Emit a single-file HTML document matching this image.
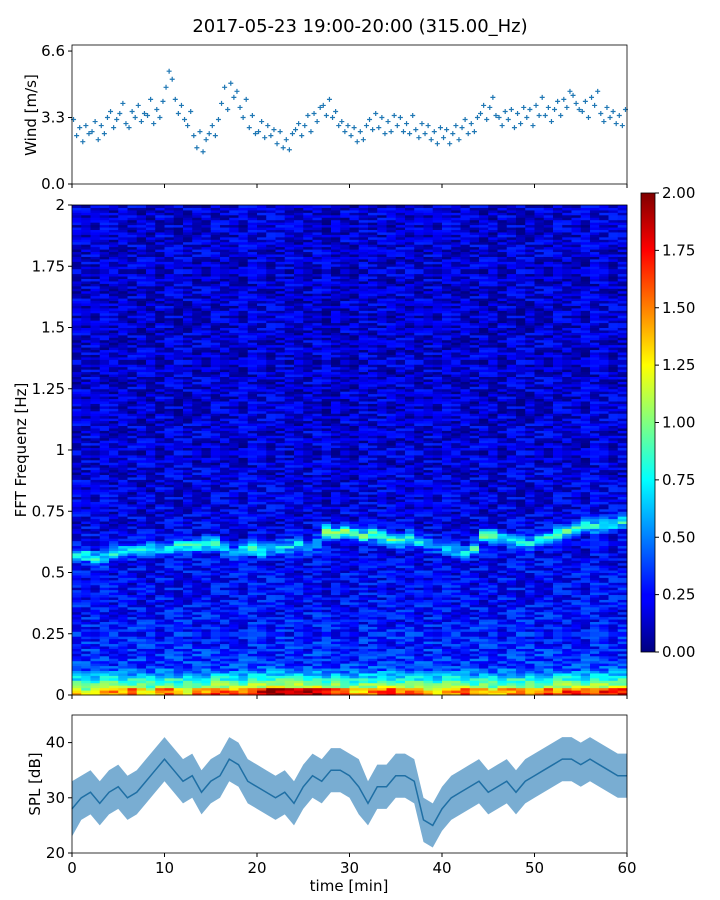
<!DOCTYPE html>
<html><head><meta charset="utf-8"><style>
body{margin:0;background:#fff;}
svg{display:block;font-family:"DejaVu Sans","Liberation Sans",sans-serif;}
</style></head><body>
<svg id="fig" width="720" height="900" viewBox="0 0 720 900">
<defs>
<linearGradient id="jet" x1="0" y1="1" x2="0" y2="0">
<stop offset="0" stop-color="#000080"/><stop offset="0.11" stop-color="#0000ff"/>
<stop offset="0.125" stop-color="#0000ff"/><stop offset="0.375" stop-color="#00ffff"/>
<stop offset="0.5" stop-color="#80ff80"/><stop offset="0.625" stop-color="#ffff00"/>
<stop offset="0.875" stop-color="#ff0000"/><stop offset="1" stop-color="#800000"/>
</linearGradient>
</defs>
<text x="360" y="32" text-anchor="middle" font-size="18">2017-05-23 19:00-20:00 (315.00_Hz)</text>
<g id="wind"></g>
<g id="spec"></g>
<g id="cbar"></g>
<g id="spl"></g>
<text x="349" y="891" text-anchor="middle" font-size="15">time [min]</text>
<text transform="translate(36,115) rotate(-90)" text-anchor="middle" font-size="15">Wind [m/s]</text>
<text transform="translate(26,450) rotate(-90)" text-anchor="middle" font-size="15">FFT Frequenz [Hz]</text>
<text transform="translate(40,784) rotate(-90)" text-anchor="middle" font-size="15">SPL [dB]</text>
</svg>
<script>
const windValues=[3.2,2.4,2.8,2.1,2.9,2.5,2.6,3.1,2.2,2.9,2.5,3.3,3.6,2.8,3.2,3.5,4.0,3.0,2.8,3.6,3.3,3.9,3.1,3.5,3.4,4.2,3.0,3.7,3.3,4.1,4.8,5.6,5.2,4.2,3.5,3.9,3.2,2.9,3.6,2.4,1.8,2.6,1.6,2.2,2.5,2.9,2.4,3.2,4.0,4.8,3.7,5.0,4.3,4.6,3.8,3.3,4.2,2.8,3.4,2.5,2.6,3.1,2.3,2.9,2.4,2.7,2.0,2.6,1.8,2.2,1.7,2.5,2.7,3.0,2.4,2.9,3.4,2.6,3.5,3.1,3.8,3.9,3.4,4.2,3.3,3.6,2.9,3.1,2.6,2.9,2.4,2.8,2.1,2.6,2.2,2.9,3.2,2.7,3.5,2.8,3.3,2.5,3.1,2.6,3.4,2.9,3.3,2.6,3.0,2.5,3.4,2.7,2.3,3.0,2.5,2.9,2.2,2.6,2.0,2.8,2.3,2.7,2.0,2.5,2.9,2.2,2.8,3.2,2.5,3.0,2.6,3.3,3.5,3.9,3.2,3.8,4.3,3.4,3.3,2.9,3.6,3.2,3.7,2.8,3.5,3.0,3.8,3.3,3.7,2.9,3.9,3.4,4.3,3.4,3.8,3.1,3.7,4.1,3.4,4.2,3.8,4.6,4.4,4.0,3.7,3.6,4.1,3.3,4.3,3.9,4.6,3.5,3.1,3.8,3.3,3.6,3.0,3.4,2.9,3.7];
const windTicks=[0,3.3,6.6];
const windTickLabels=["0.0","3.3","6.6"];
const splMid=[28,30,31,29,31,32,30,31,33,35,37,35,33,34,31,33,34,37,36,33,32,31,30,31,29,32,34,33,35,35,34,32,29,32,32,34,34,33,26,25,28,30,31,32,33,31,32,33,31,33,34,35,36,37,37,36,37,36,35,34,34];
const splHalf=[5,4,4,4,4,4,4,4,4,4,4,4,4,4,4,4,4,4,4,4,4,4,4,4,4,4,4,4,4,4,4,5,4,4,4,4,4,4,4,4,4,4,4,4,4,4,4,4,4,4,4,4,4,4,4,4,4,4,4,4,4];
const splTicks=[20,30,40];
const xTicks=[0,10,20,30,40,50,60];
const ridgeFreq=[0.57,0.57,0.56,0.56,0.58,0.59,0.59,0.6,0.6,0.6,0.6,0.61,0.61,0.61,0.62,0.62,0.6,0.58,0.59,0.6,0.59,0.6,0.6,0.61,0.62,0.6,0.62,0.67,0.66,0.67,0.66,0.65,0.66,0.65,0.64,0.63,0.65,0.63,0.62,0.61,0.6,0.59,0.58,0.6,0.65,0.65,0.64,0.63,0.63,0.62,0.64,0.64,0.66,0.67,0.68,0.69,0.69,0.7,0.7,0.71];
const ridgeAmp=[0.6,0.6,0.55,0.5,0.55,0.5,0.45,0.5,0.45,0.5,0.5,0.55,0.6,0.65,0.7,0.65,0.5,0.45,0.6,0.6,0.55,0.5,0.45,0.5,0.5,0.4,0.5,0.8,0.8,0.85,0.75,0.7,0.7,0.75,0.7,0.6,0.55,0.5,0.4,0.35,0.4,0.4,0.55,0.6,0.7,0.7,0.55,0.5,0.5,0.5,0.6,0.65,0.75,0.7,0.7,0.65,0.6,0.6,0.6,0.65];
const lowAmp=[1.4,1.2,1.3,1.5,1.6,1.4,1.7,1.5,1.3,1.6,1.7,1.5,1.4,1.6,1.5,1.8,1.7,1.6,1.5,1.8,1.9,2.0,2.0,2.0,2.0,2.0,2.0,1.9,1.8,1.6,1.4,1.5,1.6,1.7,1.8,1.6,1.7,1.6,1.4,1.3,1.5,1.6,1.7,1.5,1.6,1.4,1.5,1.6,1.7,1.6,1.5,1.7,1.6,1.8,1.7,1.6,1.7,1.8,1.7,1.8];
const baseProfile=[0.85,0.36,0.3,0.27,0.24,0.23,0.21,0.19,0.18,0.17,0.16,0.16,0.15,0.15,0.15,0.15,0.15,0.15,0.16,0.16,0.16];
const cbarTicks=[0,0.25,0.5,0.75,1,1.25,1.5,1.75,2];
const freqTicks=[0,0.25,0.5,0.75,1,1.25,1.5,1.75,2];
const freqTickLabels=["0","0.25","0.5","0.75","1","1.25","1.5","1.75","2"];
const noise=[0.08,-0.05,0.12,-0.1,0.02,-0.07,0.1,-0.12,0.05,0.0,-0.03,0.09,-0.08,0.11,-0.02,0.06,-0.11,0.03,0.07,-0.06,0.1,-0.09,0.01,0.12,-0.04,-0.1,0.04,0.08,-0.07,0.0,0.05,-0.08,0.09,-0.01,0.11,-0.06,0.03];

const NS="http://www.w3.org/2000/svg";
function mk(tag,attrs,parent){const e=document.createElementNS(NS,tag);for(const k in attrs)e.setAttribute(k,attrs[k]);parent.appendChild(e);return e;}
const X0=72,X1=627;
const xs=t=>X0+(t/60)*(X1-X0);
const wy=v=>184-(v/6.9)*(184-45);
const fy=f=>695-(f/2)*(695-205);
const sy=v=>853-((v-20)/25)*(853-715);
const cy=v=>652-(v/2)*(652-193);
function jet(v){const x=Math.max(0,Math.min(1,v/2));const c=a=>Math.round(255*Math.max(0,Math.min(1,1.5-Math.abs(4*x-a))));return `rgb(${c(3)},${c(2)},${c(1)})`;}

function xAxis(g,y0,labels){
  xTicks.forEach(t=>{
    const l=mk('line',{x1:xs(t),x2:xs(t),y1:y0,y2:y0+4,stroke:'#000'},g);
    
    
    if(labels){const tx=mk('text',{x:xs(t),y:y0+20,'text-anchor':'middle','font-size':15},g);tx.textContent=t;
      
      }
  });
}
function frame(g,y0,y1){const r=mk('rect',{x:X0,y:y0,width:X1-X0,height:y1-y0,fill:'none',stroke:'#000','stroke-width':0.8},g);
  
  }

// wind
const wg=document.getElementById('wind');
windValues.forEach((v,i)=>{
  const x=xs((i+0.5)/3),y=wy(v);
  const p=mk('path',{d:`M${x-2.5},${y}h5M${x},${y-2.5}v5`,stroke:'#1f77b4','stroke-width':1.2},wg);
  
  
});
frame(wg,45,184);xAxis(wg,184,false);
windTicks.forEach((t,i)=>{mk('line',{x1:X0-4,x2:X0,y1:wy(t),y2:wy(t),stroke:'#000'},wg);
  const tx=mk('text',{x:X0-7,y:wy(t)+5,'text-anchor':'end','font-size':15},wg);tx.textContent=windTickLabels[i];
  
  });

// spectrogram
const sg=document.getElementById('spec');
const NR=200,df=0.01;
for(let c=0;c<60;c++){
  for(let r=0;r<NR;r++){
    const f=r*df+df/2;
    const bi=Math.min(19,Math.floor(f/0.1)),fr=f/0.1-bi;
    let v=baseProfile[bi]*(1-fr)+baseProfile[bi+1]*fr;
    v+=1.4*noise[(c*11+r*r*3+r)%noise.length];
    const d=(f-ridgeFreq[c])/0.025;v+=ridgeAmp[c]*Math.exp(-d*d);
    if(f<0.03)v+=lowAmp[c]-0.9;else if(f<0.12)v+=lowAmp[c]*0.25*(0.12-f)/0.09;
    const rc=mk('rect',{x:xs(c).toFixed(2),y:fy(f+df/2).toFixed(2),width:((X1-X0)/60+0.5).toFixed(2),height:(fy(0)-fy(df)+0.5).toFixed(2),fill:jet(v)},sg);
    
    
  }
}
frame(sg,205,695);xAxis(sg,695,false);
freqTicks.forEach((t,i)=>{mk('line',{x1:X0-4,x2:X0,y1:fy(t),y2:fy(t),stroke:'#000'},sg);
  const tx=mk('text',{x:X0-7,y:fy(t)+5,'text-anchor':'end','font-size':15},sg);tx.textContent=freqTickLabels[i];
  
  });

// colorbar
const cg=document.getElementById('cbar');
mk('rect',{x:641,y:193,width:14,height:459,fill:'url(#jet)',stroke:'#000','stroke-width':0.8},cg);
cbarTicks.forEach(t=>{mk('line',{x1:655,x2:659,y1:cy(t),y2:cy(t),stroke:'#000'},cg);
  const tx=mk('text',{x:662,y:cy(t)+5,'font-size':15},cg);tx.textContent=t.toFixed(2);
  
  });

// spl
const pg=document.getElementById('spl');
let upperPath='',lowerPath='',midPath='';
splMid.forEach((m,i)=>{upperPath+=(i?'L':'M')+xs(i)+','+sy(m+splHalf[i]);midPath+=(i?'L':'M')+xs(i)+','+sy(m);});
for(let i=splMid.length-1;i>=0;i--)lowerPath+='L'+xs(i)+','+sy(splMid[i]-splHalf[i]);
const band=mk('path',{d:upperPath+lowerPath+'Z',fill:'#1f77b4','fill-opacity':0.6},pg);


const ln=mk('path',{d:midPath,fill:'none',stroke:'#1f6fa4','stroke-width':1.5},pg);


frame(pg,715,853);xAxis(pg,853,true);
splTicks.forEach(t=>{mk('line',{x1:X0-4,x2:X0,y1:sy(t),y2:sy(t),stroke:'#000'},pg);
  const tx=mk('text',{x:X0-7,y:sy(t)+5,'text-anchor':'end','font-size':15},pg);tx.textContent=t;
  
  });
</script>
</body></html>
